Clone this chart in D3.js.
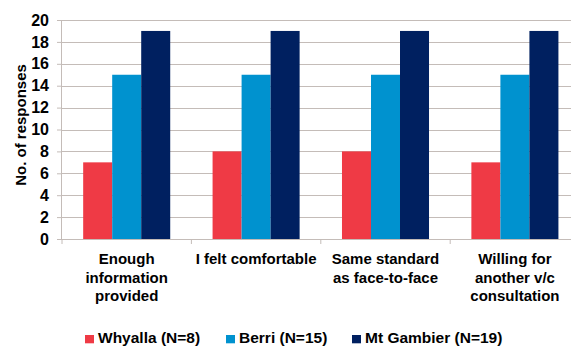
<!DOCTYPE html>
<html>
<head>
<meta charset="utf-8">
<script src="https://cdn.jsdelivr.net/npm/d3@7"></script>
<style>
  html, body { margin: 0; padding: 0; background: #fff; }
  svg { display: block; font-family: "Liberation Sans", Arial, sans-serif; }
</style>
</head>
<body>
<svg id="chart" width="571" height="347"></svg>
<script>
// Survey responses per question, by site
const categories = [
  ["Enough", "information", "provided"],
  ["I felt comfortable"],
  ["Same standard", "as face-to-face"],
  ["Willing for", "another v/c", "consultation"]
];
const seriesNames = ["Whyalla (N=8)", "Berri (N=15)", "Mt Gambier (N=19)"];
const whyalla = [7, 8, 8, 7];
const berri = [15, 15, 15, 15];
const mtGambier = [19, 19, 19, 19];
const yTicks = [0, 2, 4, 6, 8, 10, 12, 14, 16, 18, 20];
const colors = ["#ef3a45", "#0092cf", "#002060"];

const series = [whyalla, berri, mtGambier];
const svg = d3.select("#chart");
const margin = { left: 62, top: 20, right: -8.6, bottom: 108 };
const W = 571, H = 347;
const plotW = W - margin.left - margin.right;
const plotH = H - margin.top - margin.bottom;

const x0 = d3.scaleBand().domain(d3.range(categories.length)).range([0, plotW]).paddingInner(0).paddingOuter(0);
const x1 = d3.scaleBand().domain(d3.range(series.length)).range([0, x0.bandwidth()]).paddingInner(0).paddingOuter(0.73);
const y = d3.scaleLinear().domain([0, 20]).range([plotH, 0]);

const g = svg.append("g").attr("transform", `translate(${margin.left},${margin.top})`);

// horizontal gridlines
g.append("g").selectAll("line").data(yTicks.filter(t => t > 0)).join("line")
  .attr("x1", 0).attr("x2", plotW)
  .attr("y1", d => Math.round(y(d)) + 0.5).attr("y2", d => Math.round(y(d)) + 0.5)
  .attr("stroke", "#c4bcb8").attr("stroke-width", 1);

// bars
const groups = g.append("g").selectAll("g").data(categories.map((c, i) => i)).join("g")
  .attr("transform", i => `translate(${x0(i)},0)`);
groups.selectAll("rect").data(i => series.map((s, k) => ({ k, v: s[i] }))).join("rect")
  .attr("x", d => x1(d.k))
  .attr("width", x1.bandwidth())
  .attr("y", d => y(d.v))
  .attr("height", d => y(0) - y(d.v))
  .attr("fill", d => colors[d.k]);

// y axis
const yAxis = g.append("g").call(d3.axisLeft(y).tickValues(yTicks).tickSize(5).tickPadding(8).tickFormat(d3.format("d")));
yAxis.select(".domain").attr("stroke", "#c4bcb8").attr("d", `M-0.5,${plotH}V0`);
yAxis.selectAll(".tick line").attr("stroke", "#c4bcb8");
yAxis.selectAll("text").attr("font-size", 16).attr("font-weight", "bold").attr("fill", "#000")
  .attr("font-family", "Liberation Sans, Arial, sans-serif");

// x axis baseline and category ticks
const xAxis = g.append("g").attr("transform", `translate(0,${plotH})`);
xAxis.append("line").attr("x1", 0).attr("x2", plotW).attr("y1", 0.5).attr("y2", 0.5).attr("stroke", "#c4bcb8");
xAxis.selectAll(".ctick").data(d3.range(categories.length + 1)).join("line")
  .attr("class", "ctick")
  .attr("x1", i => i * x0.bandwidth()).attr("x2", i => i * x0.bandwidth())
  .attr("y1", 0).attr("y2", 5).attr("stroke", "#c4bcb8");

// category labels
const labels = xAxis.selectAll(".clabel").data(categories).join("text")
  .attr("class", "clabel")
  .attr("text-anchor", "middle")
  .attr("font-size", 15).attr("font-weight", "bold").attr("fill", "#000")
  .attr("transform", (d, i) => `translate(${x0(i) + x0.bandwidth() / 2},25)`);
labels.selectAll("tspan").data(d => d).join("tspan")
  .attr("x", 0).attr("dy", (d, j) => j === 0 ? 0 : 18.5)
  .text(d => d);

// y axis title
svg.append("text")
  .attr("transform", `translate(25.5,125) rotate(-90)`)
  .attr("text-anchor", "middle")
  .attr("font-size", 15).attr("font-weight", "bold").attr("fill", "#000")
  .text("No. of responses");

// legend
const legendX = [85, 226, 352];
const legend = svg.append("g").selectAll("g").data(seriesNames).join("g")
  .attr("transform", (d, i) => `translate(${legendX[i]},343.3)`);
legend.append("rect").attr("x", 0).attr("y", -8.3).attr("width", 9).attr("height", 8.3)
  .attr("fill", (d, i) => colors[i]);
legend.append("text").attr("x", 13).attr("y", 0)
  .attr("font-size", 15.5).attr("font-weight", "bold").attr("fill", "#000")
  .text(d => d);
</script>
</body>
</html>
